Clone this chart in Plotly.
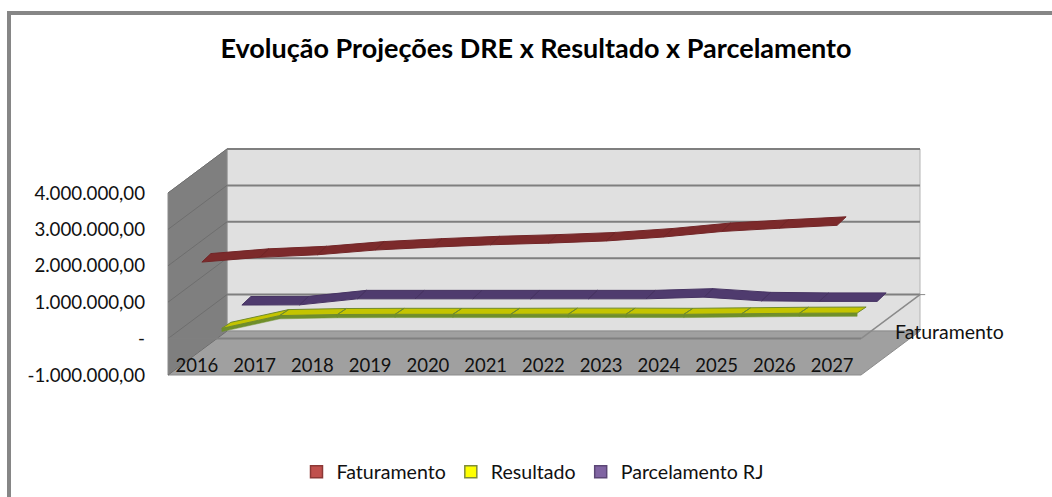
import plotly.graph_objects as go

anos = [2016, 2017, 2018, 2019, 2020, 2021, 2022, 2023, 2024, 2025, 2026, 2027]
faturamento = [2000000, 2130000, 2200000, 2330000, 2410000, 2475000, 2520000, 2580000, 2690000, 2840000, 2930000, 3010000]
resultado = [-230000, 120000, 150000, 155000, 155000, 155000, 160000, 160000, 155000, 170000, 185000, 190000]
parcelamento = [0, 5000, 170000, 170000, 170000, 170000, 170000, 170000, 217000, 115000, 100000, 100000]
nomes = ["Faturamento", "Resultado", "Parcelamento RJ"]
valores_y = [-1000000, 0, 1000000, 2000000, 3000000, 4000000]
rotulos_y = ["-1.000.000,00", "-", "1.000.000,00", "2.000.000,00", "3.000.000,00", "4.000.000,00"]

W, H = 1052, 497
# front plane of the 3-D box, in page pixels
L, R, T, B = 168, 861, 193, 375
PX_X = (R - L) / 12            # pixels per category
PX_Y = (B - T) / 5000000       # pixels per unit of value
DEPTH_X = 59 / PX_X            # box depth expressed in axis units
DEPTH_Y = 44 / PX_Y
XA, XB = -0.5, 11.5
YA, YB = -1000000, 4000000
FONT = "Lato"
INK = "#111111"

# the drawing axes fill the page, the labelled axes sit on the front plane
FULL_X = [XA - L / PX_X, XB + (W - R) / PX_X]
FULL_Y = [YA - (H - B) / PX_Y, YB + T / PX_Y]


def back(x, y, f=1.0):
    return x + DEPTH_X * f, y + DEPTH_Y * f


def closed(points):
    xs = [p[0] for p in points] + [points[0][0]]
    ys = [p[1] for p in points] + [points[0][1]]
    return xs, ys


def polygon(points, fill, line=None, width=0):
    xs, ys = closed(points)
    return go.Scatter(x=xs, y=ys, mode="lines", fill="toself", fillcolor=fill,
                      line=dict(color=line or fill, width=width),
                      hoverinfo="skip", showlegend=False)


def segment(p, q, color, width):
    return go.Scatter(x=[p[0], q[0]], y=[p[1], q[1]], mode="lines",
                      line=dict(color=color, width=width),
                      hoverinfo="skip", showlegend=False)


fig = go.Figure()

# back wall
fig.add_trace(polygon([back(XA, YA), back(XB, YA), back(XB, YB), back(XA, YB)], "#e0e0e0", "#b4b4b4", 1))
# left wall
fig.add_trace(polygon([(XA, YA), back(XA, YA), back(XA, YB), (XA, YB)], "#7f7f7f", "#8a8a8a", 1))
# floor
fig.add_trace(polygon([(XA, YA), (XB, YA), back(XB, YA), back(XA, YA)], "#a0a0a0", "#8c8c8c", 1))

# gridlines on the walls
for v in valores_y:
    if v > YA:
        fig.add_trace(segment(back(XA, v), back(XB, v), "#7f7f7f", 2))
    fig.add_trace(segment((XA, v), back(XA, v), "#6e6e6e", 1))

# plane of the category axis
fig.add_trace(segment((XA, 0), (XB, 0), "#808080", 2))
fig.add_trace(segment((XB, 0), back(XB, 0), "#8a8a8a", 1.5))
fig.add_trace(segment(back(XB, 0), back(XB + 0.09, 0), "#8a8a8a", 1))

# ribbons
RIB_F = [5 / 59, 25 / 59, 45 / 59]     # front edge depth of each series
RIB_DX = 9 / PX_X
RIB_DY = [8.5 / PX_Y, 6 / PX_Y, 8.5 / PX_Y]
series = [faturamento, resultado, parcelamento]
top_col = ["#7c2a2b", "#c4c400", "#4f3b6e"]
seam = ["#722628", "#6f8a2c", "#473463"]
for k, vals in enumerate(series):
    fx, fy = DEPTH_X * RIB_F[k], DEPTH_Y * RIB_F[k]
    dy = RIB_DY[k]
    xs, ys, sx, sy = [], [], [], []
    for i in range(len(vals) - 1):
        a, b = vals[i], vals[i + 1]
        poly = [(i + fx, a + fy), (i + 1 + fx, b + fy),
                (i + 1 + fx + RIB_DX, b + fy + dy), (i + fx + RIB_DX, a + fy + dy)]
        px, py = closed(poly)
        xs += px + [None]
        ys += py + [None]
        t = 90000
        side = [(i + fx, a + fy), (i + 1 + fx, b + fy), (i + 1 + fx, b + fy - t), (i + fx, a + fy - t)]
        px, py = closed(side)
        sx += px + [None]
        sy += py + [None]
    if k == 1:
        fig.add_trace(go.Scatter(x=sx, y=sy, mode="lines", fill="toself", fillcolor="#6f8f2a",
                                 line=dict(color="#6f8f2a", width=0.5),
                                 hoverinfo="skip", showlegend=False))
    fig.add_trace(go.Scatter(x=xs, y=ys, mode="lines", fill="toself", fillcolor=top_col[k],
                             line=dict(color=seam[k], width=1),
                             hoverinfo="skip", showlegend=False))

# legend entries live on the labelled axes, so those axes get drawn
leg_fill = ["#c0504d", "#ffff00", "#8064a2"]
leg_line = ["#8c3836", "#7f8c3a", "#5c4776"]
for n, f, l in zip(nomes, leg_fill, leg_line):
    fig.add_trace(go.Scatter(x=[None], y=[None], mode="markers", name=n, xaxis="x2", yaxis="y2",
                             marker=dict(symbol="square", size=12, color=f, line=dict(color=l, width=1.5))))

# chart-area frame, which runs off the picture at the right and the bottom
frame = dict(type="line", xref="paper", yref="paper", line=dict(color="#868686", width=4))
shapes = [
    dict(frame, x0=9 / W, x1=1, y0=1 - 13 / H, y1=1 - 13 / H),
    dict(frame, x0=9 / W, x1=9 / W, y0=1 - 11 / H, y1=0),
]

hidden = dict(visible=False, showgrid=False, zeroline=False, fixedrange=True)
fig.update_layout(
    width=W, height=H, autosize=False,
    margin=dict(l=0, r=0, t=0, b=0, pad=0, autoexpand=False),
    paper_bgcolor="white", plot_bgcolor="rgba(0,0,0,0)",
    font=dict(family=FONT, color=INK, size=18),
    title=dict(text="<b>Evolução Projeções DRE x Resultado x Parcelamento</b>",
               x=536 / W, xanchor="center", y=1 - 49 / H, yanchor="middle",
               font=dict(family=FONT, size=27, color="black")),
    xaxis=dict(range=FULL_X, domain=[0, 1], **hidden),
    yaxis=dict(range=FULL_Y, domain=[0, 1], **hidden),
    xaxis2=dict(range=[XA, XB], domain=[L / W, R / W], anchor="free", position=1 - 352 / H,
                tickmode="array", tickvals=list(range(len(anos))), ticktext=[str(a) for a in anos],
                showgrid=False, zeroline=False, showline=False, ticks="",
                tickfont=dict(family=FONT, size=18.5, color=INK), fixedrange=True),
    yaxis2=dict(range=[YA, YB], domain=[1 - B / H, 1 - T / H], anchor="x2",
                tickmode="array", tickvals=valores_y, ticktext=rotulos_y,
                showgrid=False, zeroline=False, showline=False, ticks="", ticklabelstandoff=22,
                tickfont=dict(family=FONT, size=18.7, color=INK), fixedrange=True),
    legend=dict(orientation="h", x=296.5 / W, xanchor="left", y=1 - 472 / H, yanchor="middle",
                font=dict(family=FONT, size=19.6, color=INK), bgcolor="rgba(0,0,0,0)",
                itemclick=False, itemdoubleclick=False),
    shapes=shapes,
    annotations=[dict(text="Faturamento", xref="x", yref="y", x=13.03, y=190000, showarrow=False,
                      font=dict(family=FONT, size=19.5, color=INK))],
)
# the page's default body margin would push the chart 8 px off
fig.write_html("out.html", config={"displayModeBar": False},
               post_script="document.body.style.margin='0';")
